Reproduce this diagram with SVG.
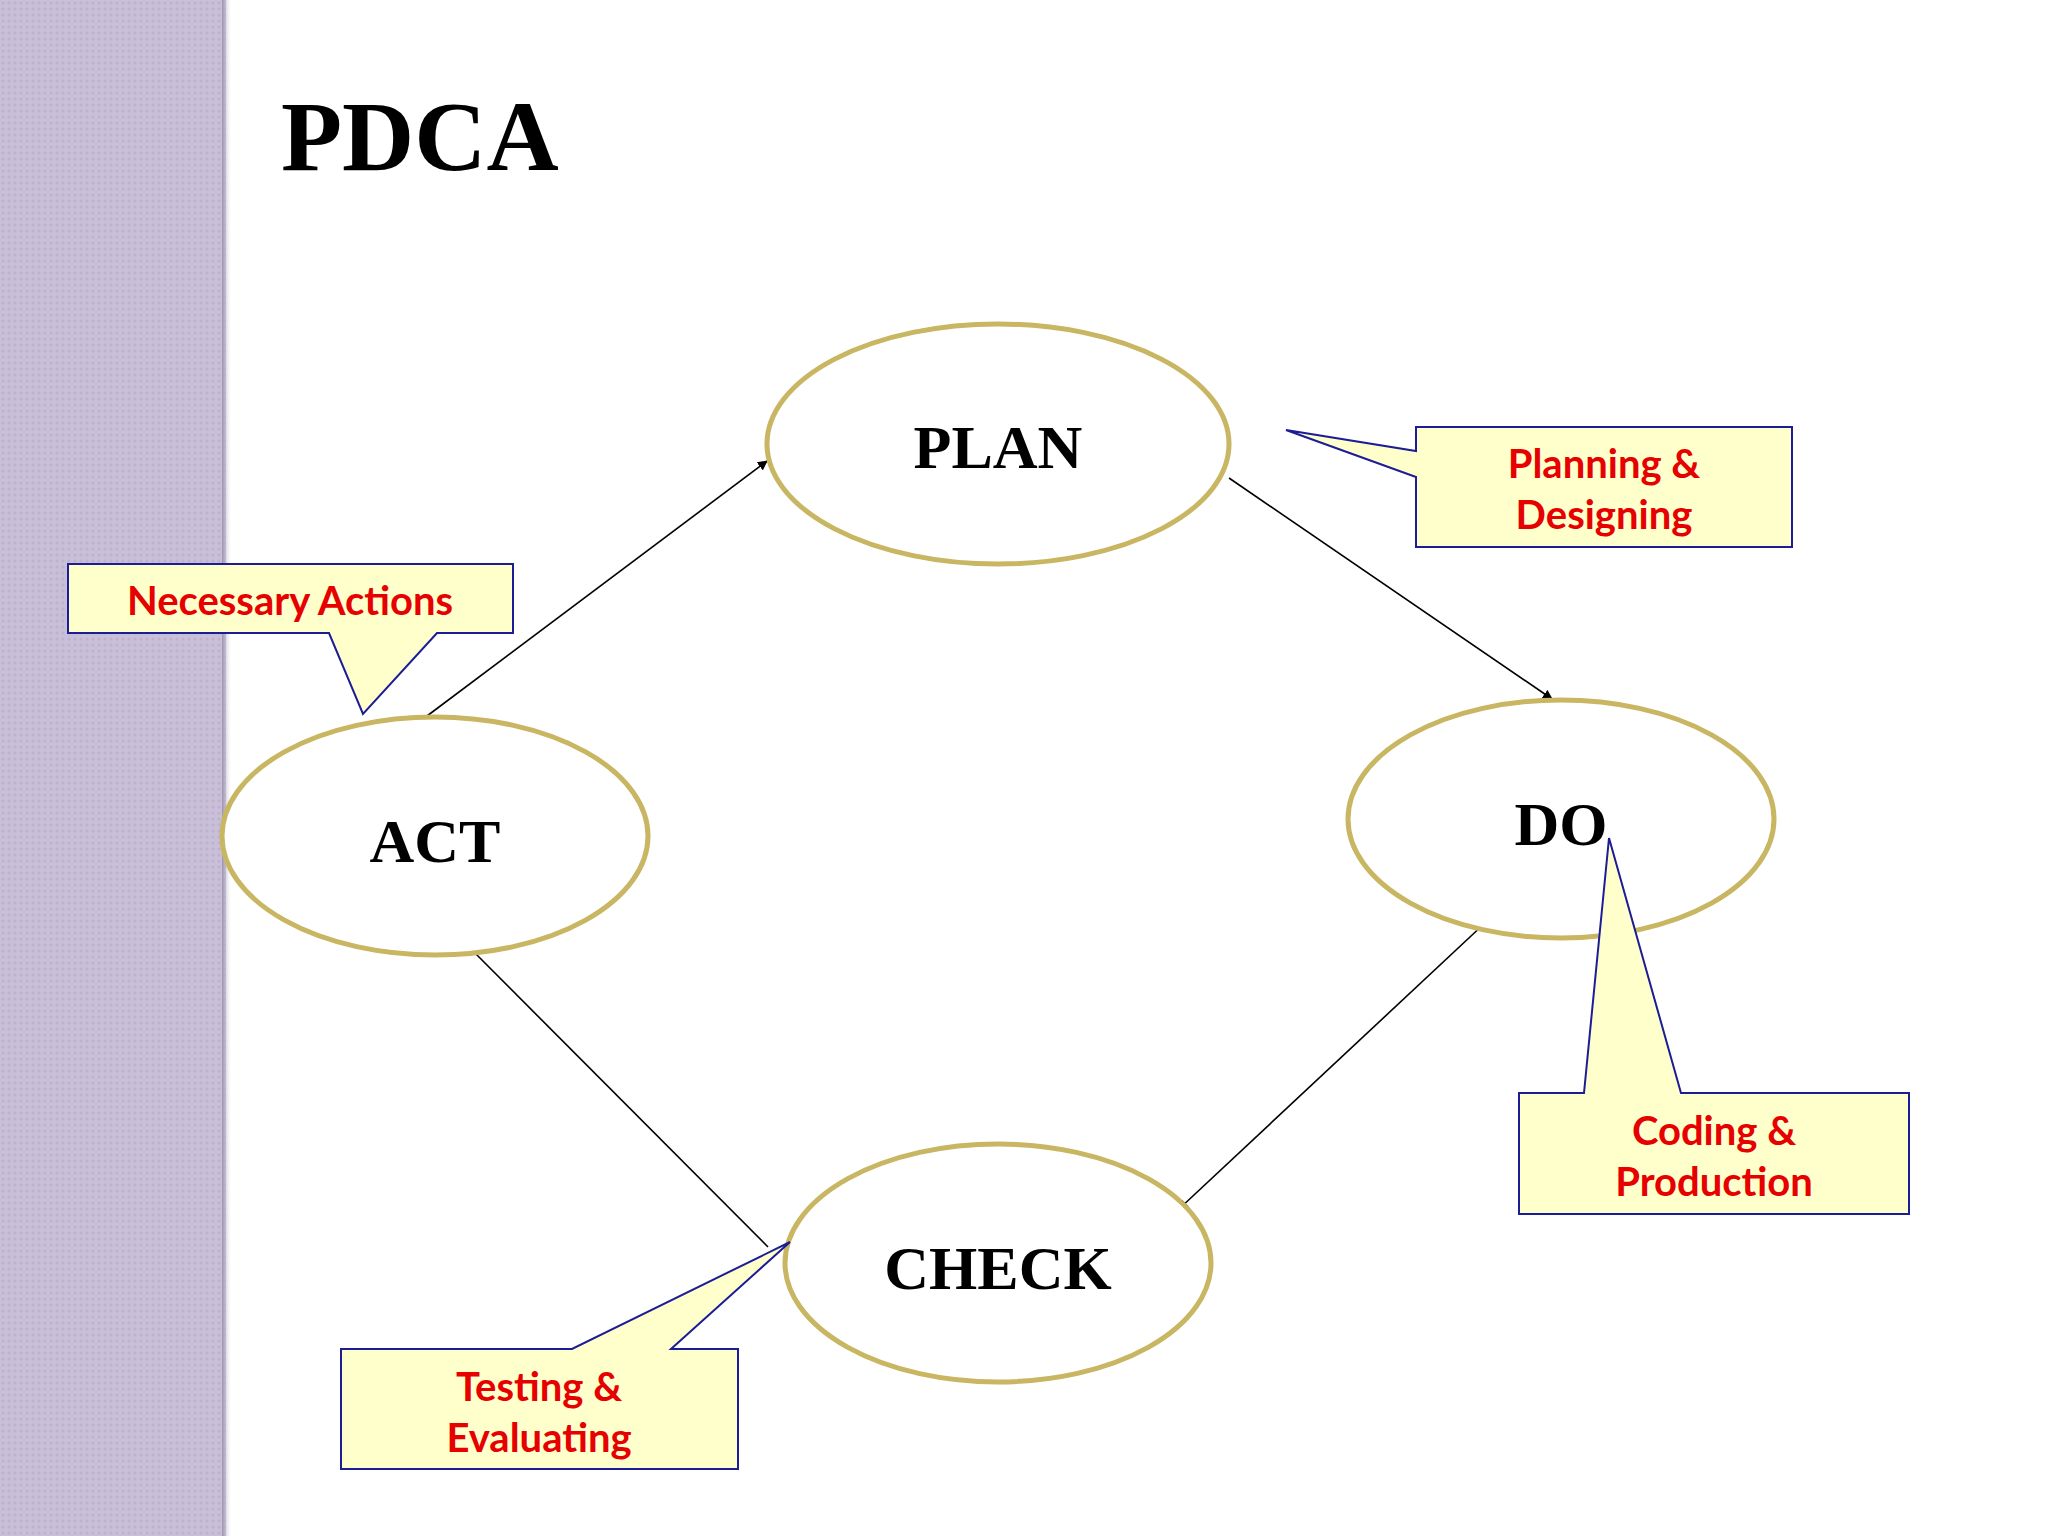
<svg xmlns="http://www.w3.org/2000/svg" width="2048" height="1536" viewBox="0 0 2048 1536">
<defs>
<pattern id="tex" width="6" height="6" patternUnits="userSpaceOnUse"><rect width="6" height="6" fill="#c9bfd9"/><circle cx="3" cy="3" r="1.6" fill="#bdb2cf"/></pattern>
<linearGradient id="sh" x1="0" x2="1"><stop offset="0" stop-color="#9a90ad"/><stop offset="1" stop-color="#ffffff" stop-opacity="0"/></linearGradient>
<marker id="ah" markerWidth="10" markerHeight="10" refX="9" refY="5" orient="auto" markerUnits="userSpaceOnUse" viewBox="0 0 10 10"><path d="M0,0 L10,5 L0,10 z" fill="#000"/></marker>
</defs>
<style>
.el{fill:#fff;stroke:#c8b662;stroke-width:5}
.nt{font-family:"Liberation Serif",serif;font-weight:bold;font-size:62px;text-anchor:middle;fill:#000}
.co{fill:#ffffcc;stroke:#1c1c96;stroke-width:2}
.ct{font-family:Lato,"Open Sans",sans-serif;font-weight:bold;font-size:40px;text-anchor:middle;fill:#e60000}
.cn{stroke:#000;stroke-width:1.6;fill:none;marker-end:url(#ah)}
</style>
<rect width="2048" height="1536" fill="#fff"/>
<rect x="0" y="0" width="226" height="1536" fill="url(#tex)"/>
<rect x="222" y="0" width="10" height="1536" fill="url(#sh)"/>
<text x="281" y="170" font-family="Liberation Serif,serif" font-weight="bold" font-size="100" fill="#000">PDCA</text>
<g id="connectors">
<line class="cn" x1="427" y1="716" x2="767" y2="461"/>
<line class="cn" x1="1229" y1="478" x2="1552" y2="699"/>
<line class="cn" x1="1486" y1="922" x2="1179" y2="1209"/>
<line class="cn" x1="768" y1="1247" x2="462" y2="940"/>
</g>
<g id="plan"><ellipse class="el" cx="998" cy="444" rx="231" ry="120"/><text class="nt" x="998" y="468">PLAN</text></g>
<g id="do"><ellipse class="el" cx="1561" cy="819" rx="213" ry="119"/><text class="nt" x="1561" y="845">DO</text></g>
<g id="check"><ellipse class="el" cx="998" cy="1263" rx="213" ry="119"/><text class="nt" x="998" y="1289">CHECK</text></g>
<g id="act"><ellipse class="el" cx="435" cy="836" rx="213" ry="119"/><text class="nt" x="435" y="862">ACT</text></g>
<g id="callout-plan"><path class="co" d="M1416,427 H1792 V547 H1416 V477 L1286,430 L1416,451 Z"/><text class="ct" x="1604" y="478">Planning &amp;</text><text class="ct" x="1604" y="529">Designing</text></g>
<g id="callout-act"><path class="co" d="M68,564 H513 V633 H437 L363,714 L329,633 H68 Z"/><text class="ct" x="290" y="615">Necessary Actions</text></g>
<g id="callout-do"><path class="co" d="M1519,1093 H1584 L1609,838 L1681,1093 H1909 V1214 H1519 Z"/><text class="ct" x="1714" y="1145">Coding &amp;</text><text class="ct" x="1714" y="1196">Production</text></g>
<g id="callout-check"><path class="co" d="M341,1349 H572 L790,1242 L671,1349 H738 V1469 H341 Z"/><text class="ct" x="539" y="1401">Testing &amp;</text><text class="ct" x="539" y="1452">Evaluating</text></g>
</svg>
